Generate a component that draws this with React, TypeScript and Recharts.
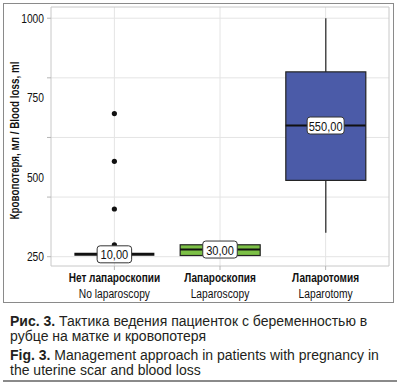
import React from 'react';
import {
  ComposedChart,
  Bar,
  Scatter,
  XAxis,
  YAxis,
  CartesianGrid,
  ReferenceArea,
} from 'recharts';

// ---- data ----
const categoriesRu = ['Нет лапароскопии', 'Лапароскопия', 'Лапаротомия'];
const categoriesEn = ['No laparoscopy', 'Laparoscopy', 'Laparotomy'];
const whiskerLow = [10, 5, 100];
const quartile1 = [10, 5, 320];
const medians = [10, 30, 550];
const quartile3 = [10, 50, 775];
const whiskerHigh = [10, 50, 1000];
const medianLabels = ['10,00', '30,00', '550,00'];
const outlierGroup = [1, 1, 1, 1];
const outlierValues = [600, 400, 200, 50];
const yGridValues = [0, 250, 500, 750, 1000];
const yLabelValues = [0, 1000 / 3, 2000 / 3, 1000];
const yTickLabels = ['250', '500', '750', '1000'];
const boxColors = ['#1a1a1a', '#7cc046', '#4b5ba8'];

const SANS = '"Liberation Sans", Arial, Helvetica, sans-serif';
const NARROW_SCALE = 0.82;

const chartData = categoriesRu.map((c, i) => ({
  pos: i + 1,
  whisker: [whiskerLow[i], whiskerHigh[i]],
  box: [quartile1[i], quartile3[i]],
  med: medians[i],
  q1: quartile1[i],
  q3: quartile3[i],
  label: medianLabels[i],
  color: boxColors[i],
}));

const outlierData = outlierGroup.map((g, i) => ({ pos: g, value: outlierValues[i] }));

const yAllTicks = Array.from(new Set([...yGridValues, ...yLabelValues])).sort((a, b) => a - b);

const NarrowText = ({ x, y, anchor = 'middle', size = 12, bold = false, rotate = 0, children }: any) => (
  <text
    transform={`translate(${x},${y})${rotate ? ` rotate(${rotate})` : ''} scale(${NARROW_SCALE},1)`}
    x={0}
    y={0}
    textAnchor={anchor}
    fontFamily={SANS}
    fontWeight={bold ? 'bold' : 'normal'}
    fontSize={size}
    fill="#111"
  >
    {children}
  </text>
);

const WhiskerShape = (props: any) => {
  const { x, y, width, height } = props;
  if (!height) return <g />;
  const cx = x + width / 2;
  return <line x1={cx} x2={cx} y1={y} y2={y + height} stroke="#222" strokeWidth={1.2} />;
};

const BoxShape = (props: any) => {
  const { x, y, width, height, payload } = props;
  if (!height || height < 0.5) return <g />;
  return (
    <rect x={x} y={y} width={width} height={height} fill={payload.color} stroke="#222" strokeWidth={1.2} />
  );
};

const MedianShape = (props: any) => {
  const { cx, cy, payload } = props;
  const flat = payload.q1 === payload.q3;
  const w = 22 + payload.label.length * 2.5;
  return (
    <g>
      <line x1={cx - 40} x2={cx + 40} y1={cy} y2={cy} stroke="#111" strokeWidth={flat ? 3 : 2} />
      <rect x={cx - w / 2} y={cy - 8.5} width={w} height={17} rx={3} ry={3} fill="#fff" stroke="#333" strokeWidth={1} />
      <NarrowText x={cx} y={cy + 5} size={13.5}>
        {payload.label}
      </NarrowText>
    </g>
  );
};

const OutlierShape = (props: any) => {
  const { cx, cy } = props;
  return <circle cx={cx} cy={cy} r={2.6} fill="#111" />;
};

const XTick = (props: any) => {
  const { x, y, payload } = props;
  const i = Math.round(payload.value) - 1;
  return (
    <g>
      <NarrowText x={x} y={y + 9.5} size={12.3} bold>
        {categoriesRu[i]}
      </NarrowText>
      <NarrowText x={x} y={y + 25.5} size={12.5}>
        {categoriesEn[i]}
      </NarrowText>
    </g>
  );
};

const YTick = (props: any) => {
  const { x, y, payload } = props;
  const v = payload.value;
  const isGrid = yGridValues.some((g) => Math.abs(g - v) < 1e-6);
  const li = yLabelValues.findIndex((g) => Math.abs(g - v) < 1e-6);
  return (
    <g>
      {isGrid && <line x1={x + 3} x2={x + 7} y1={y} y2={y} stroke="#b5b5b5" strokeWidth={1} />}
      {li >= 0 && (
        <NarrowText x={x} y={y + 4.5} anchor="end" size={12.5}>
          {yTickLabels[li]}
        </NarrowText>
      )}
    </g>
  );
};

const YLabel = (props: any) => {
  const { viewBox } = props;
  const cx = viewBox.x + 19;
  const cy = viewBox.y + viewBox.height / 2 + 4;
  return (
    <NarrowText x={cx} y={cy} rotate={-90} size={12} bold>
      Кровопотеря, мл / Blood loss, ml
    </NarrowText>
  );
};

const X_DOMAIN: [number, number] = [0.4, 3.6];
const Y_DOMAIN: [number, number] = [-39, 1047];

export default function App() {
  return (
    <div style={{ position: 'absolute', left: 0, top: 0, width: 401, height: 388, background: '#fff', overflow: 'hidden' }}>
      <div style={{ position: 'absolute', left: 0, top: 0 }}>
        <ComposedChart width={401} height={305} data={chartData} margin={{ top: 7, right: 12, bottom: 0, left: 0 }}>
          <CartesianGrid
            stroke="#e4e4e4"
            strokeWidth={1}
            horizontalValues={yGridValues}
            verticalValues={[1, 2, 3]}
          />
          <XAxis
            type="number"
            dataKey="pos"
            domain={X_DOMAIN}
            ticks={[1, 2, 3]}
            interval={0}
            height={39}
            axisLine={false}
            tickLine={{ stroke: '#b5b5b5' }}
            tickSize={4}
            tickMargin={2}
            tick={<XTick />}
          />
          <XAxis xAxisId="wx" type="number" dataKey="pos" domain={X_DOMAIN} hide />
          <XAxis xAxisId="bx" type="number" dataKey="pos" domain={X_DOMAIN} hide />
          <YAxis
            type="number"
            domain={Y_DOMAIN}
            ticks={yAllTicks}
            interval={0}
            width={51}
            axisLine={false}
            tickLine={false}
            tickSize={5}
            tickMargin={2}
            tick={<YTick />}
            label={<YLabel />}
            allowDataOverflow
          />
          <ReferenceArea
            x1={X_DOMAIN[0]}
            x2={X_DOMAIN[1]}
            y1={Y_DOMAIN[0]}
            y2={Y_DOMAIN[1]}
            fill="none"
            stroke="#c8c8c8"
            strokeWidth={1}
            ifOverflow="visible"
          />
          <Bar xAxisId="wx" dataKey="whisker" barSize={80} shape={<WhiskerShape />} isAnimationActive={false} />
          <Bar xAxisId="bx" dataKey="box" barSize={80} shape={<BoxShape />} isAnimationActive={false} />
          <Scatter data={outlierData} dataKey="value" shape={<OutlierShape />} isAnimationActive={false} />
          <Scatter dataKey="med" shape={<MedianShape />} isAnimationActive={false} />
        </ComposedChart>
      </div>
      <div
        style={{
          position: 'absolute',
          left: 3,
          top: 3,
          width: 391,
          height: 300,
          border: '1.5px solid #8a8a8a',
          boxSizing: 'border-box',
          pointerEvents: 'none',
        }}
      />
      <div style={{ position: 'absolute', left: 10, top: 314, fontFamily: SANS, fontSize: 14, lineHeight: '15px', color: '#231f20', whiteSpace: 'nowrap' }}>
        <div><b>Рис. 3.</b> Тактика ведения пациенток с беременностью в</div>
        <div>рубце на матке и кровопотеря</div>
      </div>
      <div style={{ position: 'absolute', left: 10, top: 348, fontFamily: SANS, fontSize: 14, lineHeight: '15px', color: '#231f20', whiteSpace: 'nowrap' }}>
        <div><b>Fig. 3.</b> Management approach in patients with pregnancy in</div>
        <div>the uterine scar and blood loss</div>
      </div>
      <div style={{ position: 'absolute', left: 3, top: 380, width: 394, height: 2, background: '#8a8a8a' }} />
    </div>
  );
}
